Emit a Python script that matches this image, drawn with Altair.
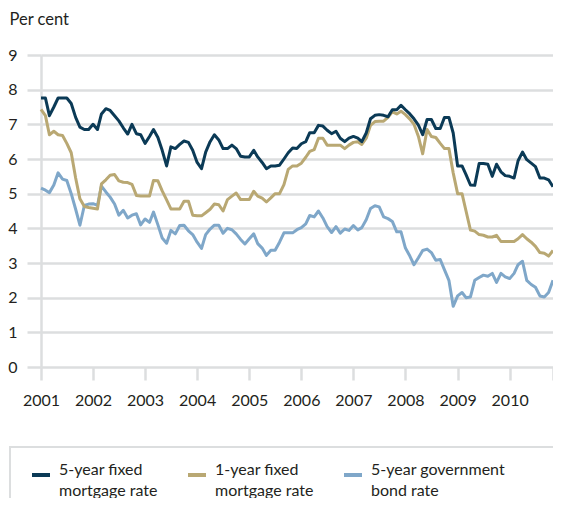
import altair as alt
import pandas as pd

# Monthly observations, January 2001 to November 2010
start_month = "2001-01-01"

five_year_fixed = [
    7.76, 7.76, 7.25, 7.5, 7.76, 7.76, 7.76, 7.6, 7.2, 6.92, 6.85, 6.85,
    7.0, 6.85, 7.3, 7.45, 7.4, 7.25, 7.1, 6.9, 6.72, 7.0, 6.73, 6.7,
    6.45, 6.65, 6.85, 6.62, 6.25, 5.8, 6.35, 6.3, 6.42, 6.52, 6.48,
    6.25, 5.9, 5.72, 6.2, 6.5, 6.7, 6.55, 6.3, 6.3, 6.4, 6.3, 6.08,
    6.06, 6.06, 6.25, 6.06, 5.9, 5.72, 5.8, 5.8, 5.82, 6.0, 6.18, 6.32,
    6.3, 6.44, 6.5, 6.76, 6.76, 6.97, 6.95, 6.83, 6.73, 6.8, 6.6, 6.5,
    6.6, 6.65, 6.6, 6.5, 6.75, 7.16, 7.26, 7.28, 7.26, 7.22, 7.42, 7.42,
    7.55, 7.42, 7.3, 7.16, 6.98, 6.7, 7.14, 7.14, 6.88, 6.88, 7.2, 7.2,
    6.75, 5.8, 5.8, 5.55, 5.25, 5.24, 5.87, 5.87, 5.85, 5.5, 5.85,
    5.63, 5.52, 5.5, 5.45, 5.95, 6.2, 5.98, 5.88, 5.78, 5.45, 5.45, 5.4,
    5.2,
]

one_year_fixed = [
    7.43, 7.25, 6.7, 6.8, 6.7, 6.68, 6.45, 6.18, 5.45, 4.85, 4.63, 4.6,
    4.58, 4.56, 5.28, 5.4, 5.53, 5.55, 5.37, 5.33, 5.32, 5.27, 4.95, 4.93,
    4.93, 4.93, 5.38, 5.37, 5.08, 4.82, 4.56, 4.56, 4.56, 4.78, 4.78,
    4.38, 4.36, 4.36, 4.45, 4.55, 4.7, 4.68, 4.5, 4.83, 4.93, 5.02, 4.83,
    4.83, 4.83, 5.07, 4.93, 4.87, 4.76, 4.88, 5.0, 5.0, 5.26, 5.7, 5.8,
    5.8, 5.88, 6.05, 6.22, 6.27, 6.6, 6.6, 6.4, 6.4, 6.4, 6.4, 6.3,
    6.4, 6.48, 6.5, 6.42, 6.6, 6.97, 7.08, 7.09, 7.09, 7.2, 7.36, 7.3,
    7.38, 7.28, 7.15, 7.0, 6.65, 6.15, 6.85, 6.65, 6.62, 6.45, 6.3, 6.3,
    5.6, 5.0, 5.0, 4.5, 3.95, 3.92, 3.82, 3.8, 3.75, 3.75, 3.8,
    3.62, 3.62, 3.62, 3.62, 3.7, 3.82, 3.7, 3.6, 3.48, 3.3, 3.28, 3.2,
    3.36,
]

government_bond = [
    5.16, 5.1, 5.03, 5.25, 5.6, 5.42, 5.38, 5.0, 4.55, 4.09, 4.66, 4.7,
    4.71, 4.66, 5.22, 5.05, 4.9, 4.7, 4.38, 4.52, 4.3, 4.38, 4.42, 4.1,
    4.27, 4.17, 4.47, 4.1, 3.72, 3.57, 3.94, 3.84, 4.08, 4.09, 3.93,
    3.82, 3.6, 3.42, 3.82, 3.98, 4.09, 4.09, 3.86, 4.0, 3.96, 3.84, 3.68,
    3.55, 3.7, 3.84, 3.56, 3.43, 3.22, 3.37, 3.37, 3.6, 3.87, 3.87, 3.87,
    3.96, 4.02, 4.13, 4.37, 4.33, 4.5, 4.3, 4.05, 3.88, 4.05, 3.86, 3.98,
    3.94, 4.08, 3.95, 4.02, 4.25, 4.57, 4.65, 4.62, 4.33, 4.28, 4.2, 3.9,
    3.9, 3.43, 3.2, 2.95, 3.15, 3.36, 3.4, 3.3, 3.08, 3.1, 2.8, 2.5,
    1.75, 2.05, 2.15, 2.0, 2.02, 2.5, 2.58, 2.65, 2.62, 2.7, 2.44,
    2.7, 2.6, 2.55, 2.7, 2.95, 3.05, 2.5, 2.38, 2.3, 2.05, 2.02, 2.15,
    2.5,
]

series_names = [
    "5-year fixed|mortgage rate",
    "1-year fixed|mortgage rate",
    "5-year government|bond rate",
]
series_colors = ["#0b3a56", "#b9a873", "#7fa7c9"]
y_ticks = list(range(0, 10))
x_years = list(range(2001, 2011))

dates = pd.date_range(start_month, periods=len(five_year_fixed), freq="MS")
frames = []
for name, vals in zip(series_names, [five_year_fixed, one_year_fixed, government_bond]):
    frames.append(pd.DataFrame({"date": dates.strftime("%Y-%m-%dT00:00:00"), "value": vals, "series": name}))
df = pd.concat(frames, ignore_index=True)

last = dates[-1]

GRID = "#dcdedf"
TEXT = "#231f20"
FONT = "Lato"

color = alt.Color(
    "series:N",
    scale=alt.Scale(domain=series_names, range=series_colors),
    legend=alt.Legend(
        orient="none",
        legendX=-11,
        legendY=409,
        direction="horizontal",
        title=None,
        symbolType="stroke",
        symbolSize=324,
        symbolStrokeWidth=4,
        labelFont=FONT,
        labelFontSize=16,
        labelColor=TEXT,
        labelOffset=7,
        labelBaseline="alphabetic",
        columnPadding=22,
        labelExpr="split(datum.label, '|')",
        labelLimit=300,
        padding=0,
    ),
)

x = alt.X(
    "date:T",
    scale=alt.Scale(domain=[alt.DateTime(year=2001, month=1, date=1),
                            alt.DateTime(year=int(last.year), month=int(last.month), date=1)]),
    axis=alt.Axis(
        values=[alt.DateTime(year=y, month=1, date=1) for y in x_years]
        + [alt.DateTime(year=int(last.year), month=int(last.month), date=1)],
        labelExpr="month(datum.value) == 0 ? timeFormat(datum.value, '%Y') : ''",
        grid=False,
        domain=False,
        ticks=True,
        tickColor=GRID,
        tickWidth=2.5,
        tickSize=13,
        labelFont=FONT,
        labelFontSize=16,
        labelColor=TEXT,
        labelPadding=12,
        labelFlush=False,
        title=None,
    ),
)

y = alt.Y(
    "value:Q",
    scale=alt.Scale(domain=[0, 9], nice=False, zero=True),
    axis=alt.Axis(
        values=y_ticks,
        grid=True,
        gridColor=GRID,
        gridWidth=2.5,
        domain=True,
        domainColor=GRID,
        domainWidth=2.5,
        ticks=True,
        tickColor=GRID,
        tickWidth=2.5,
        tickSize=14,
        labelFont=FONT,
        labelFontSize=16,
        labelColor=TEXT,
        labelPadding=10,
        title="Per cent",
        titleAngle=0,
        titleX=-32,
        titleY=-31,
        titleAlign="left",
        titleBaseline="alphabetic",
        titleFont=FONT,
        titleFontSize=16.5,
        titleFontWeight="normal",
        titleColor=TEXT,
    ),
)

legend_box = alt.Chart(alt.Data(values=[{}])).mark_rect(
    fill="white", stroke=GRID, strokeWidth=2
).encode(
    x=alt.value(-31), x2=alt.value(540), y=alt.value(392), y2=alt.value(480)
)

layers = [legend_box]
for name in reversed(series_names):
    layers.append(
        alt.Chart(df)
        .transform_filter(alt.datum.series == name)
        .mark_line(strokeWidth=3, strokeJoin="round")
        .encode(x=x, y=y, color=color)
    )

chart = (
    alt.layer(*layers)
    .properties(
        width=512,
        height=312,
        autosize=alt.AutoSizeParams(type="none"),
        padding={"left": 33, "top": 47, "right": 0, "bottom": 131},
    )
    .configure(
        view=alt.ViewConfig(strokeWidth=0),
        style={"guide-label": {"lineHeight": 21}},
    )
)

chart.save("out.html", embed_options={"renderer": "svg", "actions": False})
